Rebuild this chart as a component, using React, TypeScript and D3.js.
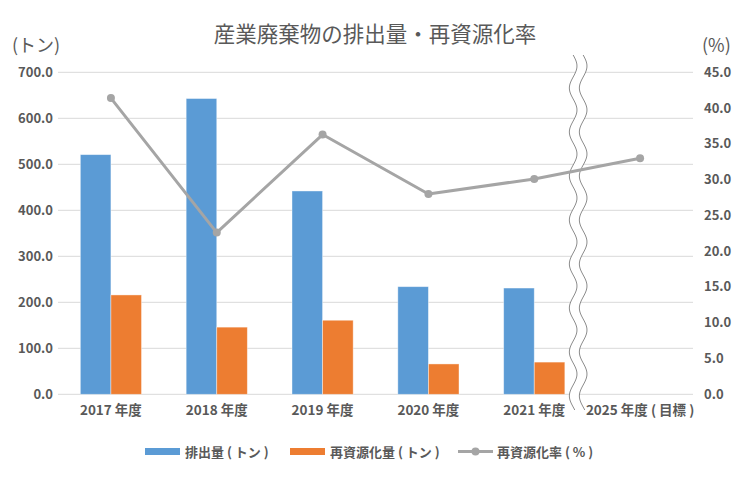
import React from "react";
import * as d3 from "d3";

const categories = ["2017 年度", "2018 年度", "2019 年度", "2020 年度", "2021 年度", "2025 年度 ( 目標 )"];
const emissions: (number | null)[] = [521, 643, 442, 234, 231, null];
const recycled: (number | null)[] = [216, 146, 161, 66, 70, null];
const recycleRate: number[] = [41.4, 22.6, 36.3, 28.0, 30.1, 33.0];
const leftTicks = [0, 100, 200, 300, 400, 500, 600, 700];
const rightTicks = [0, 5, 10, 15, 20, 25, 30, 35, 40, 45];

const W = 750, H = 480;
const M = { left: 58, right: 57, top: 72.3, bottom: 85.7 };
const FONT = "'Noto Sans CJK JP', 'Noto Sans', sans-serif";
const BLUE = "#5B9BD5", ORANGE = "#ED7D31", GRAY = "#A5A5A5", TXT = "#595959";

export default function App() {
  const x = d3.scaleBand<string>().domain(categories).range([M.left, W - M.right]);
  const yL = d3.scaleLinear().domain([0, 700]).range([H - M.bottom, M.top]);
  const yR = d3.scaleLinear().domain([0, 45]).range([H - M.bottom, M.top]);
  const bw = x.bandwidth();
  const barW = bw * 0.289;
  const cx = (c: string) => (x(c) as number) + bw / 2;

  const line = d3.line<number>().x((_, i) => cx(categories[i])).y((d) => yR(d));

  // wave break decoration
  const breakX = (cx(categories[4]) + cx(categories[5])) / 2 - 9;
  const waveTop = 55, waveBot = 410;
  const wave = (x0: number) => {
    const pts: [number, number][] = [];
    for (let yy = waveTop; yy <= waveBot; yy += 1) {
      pts.push([x0 + 3.8 * Math.sin(((yy - waveTop) / 44) * 2 * Math.PI), yy]);
    }
    return pts;
  };
  const w1 = wave(breakX - 5);
  const w2 = wave(breakX + 5);
  const lineGen = d3.line();
  const fillPath = lineGen([...w1, ...w2.slice().reverse()]) + "Z";

  return (
    <svg width={W} height={H} style={{ position: "absolute", left: 0, top: 0, background: "#fff" }} fontFamily={FONT}>
      <rect width={W} height={H} fill="#fff" />
      <text x={375} y={42} textAnchor="middle" fontSize={21.5} fill={TXT}>産業廃棄物の排出量・再資源化率</text>
      <text x={12} y={52} fontSize={18} fill={TXT}>(トン)</text>
      <text x={702} y={52} fontSize={18} fill={TXT}>(%)</text>

      {leftTicks.map((t) => (
        <g key={"l" + t}>
          <line x1={M.left} x2={W - M.right} y1={yL(t)} y2={yL(t)} stroke="#D9D9D9" strokeWidth={1} />
          <text x={53} y={yL(t) + 4.5} textAnchor="end" fontSize={13} fontWeight="bold" fill={TXT}>{t.toFixed(1)}</text>
        </g>
      ))}
      {rightTicks.map((t) => (
        <text key={"r" + t} x={704} y={yR(t) + 4.5} textAnchor="start" fontSize={13} fontWeight="bold" fill={TXT}>{t.toFixed(1)}</text>
      ))}

      {categories.map((c, i) => (
        <g key={c}>
          {emissions[i] != null && (
            <rect x={cx(c) - barW} y={yL(emissions[i] as number)} width={barW} height={yL(0) - yL(emissions[i] as number)} fill={BLUE} stroke="#fff" strokeOpacity={0.5} strokeWidth={0.8} />
          )}
          {recycled[i] != null && (
            <rect x={cx(c)} y={yL(recycled[i] as number)} width={barW} height={yL(0) - yL(recycled[i] as number)} fill={ORANGE} stroke="#fff" strokeOpacity={0.5} strokeWidth={0.8} />
          )}
          <text x={cx(c)} y={415} textAnchor="middle" fontSize={13.5} fontWeight="bold" fill={TXT}>{c}</text>
        </g>
      ))}

      <path d={fillPath} fill="#fff" stroke="none" />
      <path d={lineGen(w1) as string} fill="none" stroke="#6f6f6f" strokeWidth={0.8} />
      <path d={lineGen(w2) as string} fill="none" stroke="#6f6f6f" strokeWidth={0.8} />

      <path d={line(recycleRate) as string} fill="none" stroke={GRAY} strokeWidth={3} strokeLinejoin="round" />
      {recycleRate.map((v, i) => (
        <circle key={i} cx={cx(categories[i])} cy={yR(v)} r={4} fill={GRAY} />
      ))}

      <g fontSize={13} fontWeight="bold" fill={TXT}>
        <rect x={145} y={448} width={35} height={7} fill={BLUE} />
        <text x={185} y={457}>排出量 ( トン )</text>
        <rect x={290} y={448} width={35} height={7} fill={ORANGE} />
        <text x={330} y={457}>再資源化量 ( トン )</text>
        <line x1={458} x2={493} y1={451.5} y2={451.5} stroke={GRAY} strokeWidth={3} />
        <circle cx={475.5} cy={451.5} r={4} fill={GRAY} />
        <text x={497} y={457}>再資源化率 ( % )</text>
      </g>
    </svg>
  );
}
